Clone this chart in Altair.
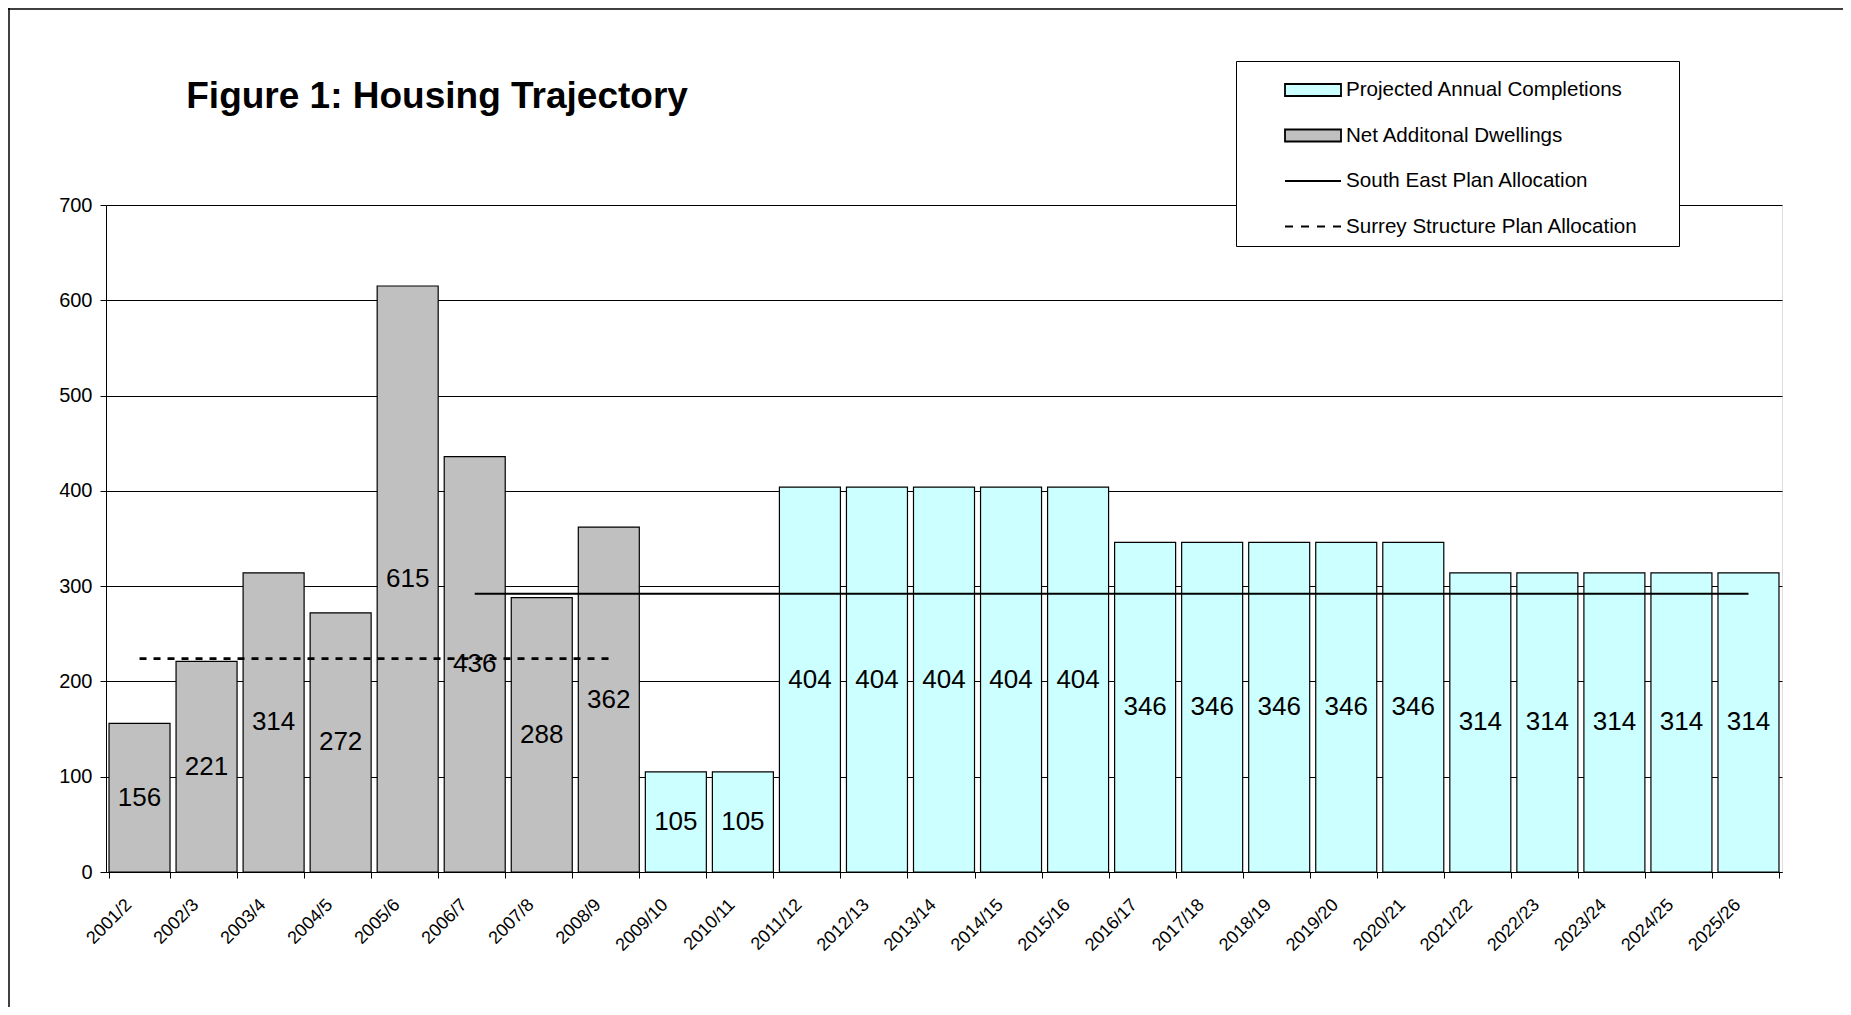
import altair as alt
import pandas as pd

# ---------------- data ----------------
years = ["2001/2", "2002/3", "2003/4", "2004/5", "2005/6", "2006/7", "2007/8", "2008/9",
         "2009/10", "2010/11", "2011/12", "2012/13", "2013/14", "2014/15", "2015/16",
         "2016/17", "2017/18", "2018/19", "2019/20", "2020/21", "2021/22", "2022/23",
         "2023/24", "2024/25", "2025/26"]

net_years = ["2001/2", "2002/3", "2003/4", "2004/5", "2005/6", "2006/7", "2007/8", "2008/9"]
net_additional = [156, 221, 314, 272, 615, 436, 288, 362]

proj_years = ["2009/10", "2010/11", "2011/12", "2012/13", "2013/14", "2014/15", "2015/16",
              "2016/17", "2017/18", "2018/19", "2019/20", "2020/21", "2021/22", "2022/23",
              "2023/24", "2024/25", "2025/26"]
projected = [105, 105, 404, 404, 404, 404, 404, 346, 346, 346, 346, 346, 314, 314, 314, 314, 314]

se_years = ["2006/7", "2007/8", "2008/9", "2009/10", "2010/11", "2011/12", "2012/13", "2013/14",
            "2014/15", "2015/16", "2016/17", "2017/18", "2018/19", "2019/20", "2020/21",
            "2021/22", "2022/23", "2023/24", "2024/25", "2025/26"]
se_plan = [292, 292, 292, 292, 292, 292, 292, 292, 292, 292,
           292, 292, 292, 292, 292, 292, 292, 292, 292, 292]

surrey_years = ["2001/2", "2002/3", "2003/4", "2004/5", "2005/6", "2006/7", "2007/8", "2008/9"]
surrey_plan = [224, 224, 224, 224, 224, 224, 224, 224]

series_names = ["Projected Annual Completions", "Net Additonal Dwellings",
                "South East Plan Allocation", "Surrey Structure Plan Allocation"]

# ---------------- tables ----------------
bars_df = pd.DataFrame({
    "year": net_years + proj_years,
    "value": net_additional + projected,
    "series": [series_names[1]] * len(net_years) + [series_names[0]] * len(proj_years),
})
se_df = pd.DataFrame({"year": se_years, "value": se_plan})
surrey_df = pd.DataFrame({"year": surrey_years, "value": surrey_plan})
legend_df = pd.DataFrame({"series": series_names})

FONT = "Liberation Sans"
W, H = 1676, 667

x_scale = alt.Scale(domain=years, paddingInner=0.09, paddingOuter=0.045)
x_axis = alt.Axis(title=None, labelAngle=-45, labelAlign="right", labelBaseline="middle",
                  labelPadding=24, labelOffset=-11, tickBand="extent", tickSize=6, grid=False,
                  labelFontSize=18, labelFont=FONT, labelColor="black",
                  domainColor="black", tickColor="black")
y_scale = alt.Scale(domain=[0, 700], nice=False)
y_axis = alt.Axis(title=None, values=[0, 100, 200, 300, 400, 500, 600, 700], grid=True,
                  gridColor="black", gridWidth=1, tickSize=6, labelPadding=8,
                  labelFontSize=20, labelFont=FONT, labelColor="black",
                  domainColor="black", tickColor="black")

x_enc = alt.X("year:N", scale=x_scale, axis=x_axis)
y_enc = alt.Y("value:Q", scale=y_scale, axis=y_axis)

fill_scale = alt.Scale(domain=series_names,
                       range=["#CCFFFF", "#C0C0C0", "transparent", "transparent"])
shape_scale = alt.Scale(domain=series_names, range=[
    "M-1.4,-0.3H1.4V0.3H-1.4Z",
    "M-1.4,-0.3H1.4V0.3H-1.4Z",
    "M-1.4,0H1.4",
    "M-1.4,0H-1M-0.6,0H-0.2M0.2,0H0.6M1,0H1.4",
])
stroke_scale = alt.Scale(domain=series_names, range=["black", "black", "black", "black"])

legend = alt.Legend(title=" ", titleOrient="right", titlePadding=33, titleFontSize=20,
                    orient="none", legendX=1130, legendY=-144,
                    labelFontSize=20.6, labelFont=FONT, labelColor="black",
                    symbolSize=1600, symbolStrokeWidth=1.8, padding=8,
                    symbolOffset=48, labelOffset=12, rowPadding=13.5,
                    strokeColor="black", fillColor="white", labelLimit=600)

bars = alt.Chart(bars_df).mark_bar(stroke="black", strokeWidth=1.2).encode(
    x=x_enc, y=y_enc,
    fill=alt.Fill("series:N", scale=fill_scale, legend=legend),
)

se_line = alt.Chart(se_df).mark_line(color="black", strokeWidth=2).encode(x=x_enc, y=y_enc)
surrey_line = alt.Chart(surrey_df).mark_line(color="black", strokeWidth=2.8,
                                             strokeDash=[7, 7]).encode(x=x_enc, y=y_enc)

labels = alt.Chart(bars_df).transform_calculate(mid="datum.value / 2").mark_text(
    font=FONT, fontSize=26, color="black", baseline="middle", align="center"
).encode(x=x_enc, y=alt.Y("mid:Q", scale=y_scale, axis=y_axis), text="value:Q")

legend_layer = alt.Chart(legend_df).transform_filter("false").mark_point(
    filled=True, size=1600
).encode(
    fill=alt.Fill("series:N", scale=fill_scale, legend=legend),
    shape=alt.Shape("series:N", scale=shape_scale, legend=legend),
    stroke=alt.Stroke("series:N", scale=stroke_scale, legend=legend),
)

frame_data = alt.Data(values=[{"k": 1}])
frame_top = alt.Chart(frame_data).mark_rule(color="black", strokeWidth=1.5).encode(
    y=alt.value(-196), x=alt.value(-98), x2=alt.value(W + 61))
frame_left = alt.Chart(frame_data).mark_rule(color="black", strokeWidth=1.5).encode(
    x=alt.value(-97), y=alt.value(-197), y2=alt.value(H + 135))

chart = alt.layer(bars, se_line, surrey_line, labels, legend_layer, frame_top, frame_left).properties(
    width=W, height=H,
    title=alt.TitleParams("Figure 1: Housing Trajectory", anchor="start", dx=179, offset=-138,
                          baseline="alphabetic",
                          fontSize=37, fontWeight="bold", font=FONT, color="black"),
    autosize=alt.AutoSizeParams(type="none"),
    padding={"left": 98, "top": 197, "right": 61, "bottom": 135},
).configure_view(stroke="#808080", strokeWidth=1).configure(background="white")

chart.save("out.html", embed_options={"renderer": "svg", "actions": False})
